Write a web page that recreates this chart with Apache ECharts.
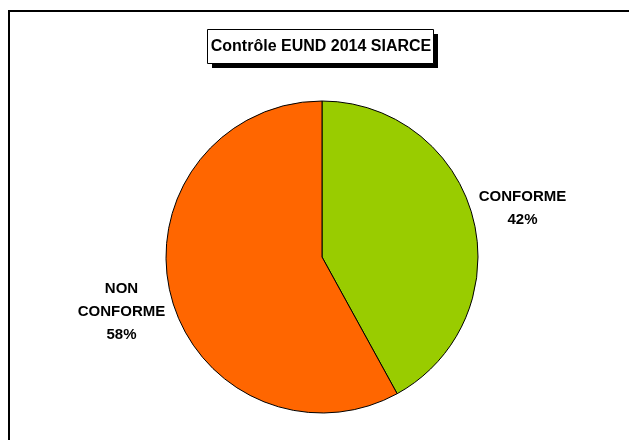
<!DOCTYPE html>
<html>
<head>
<meta charset="utf-8">
<script src="https://cdn.jsdelivr.net/npm/echarts@6/dist/echarts.min.js"></script>
<style>
html,body{margin:0;padding:0;background:#fff;}
#chart{width:629px;height:440px;}
</style>
</head>
<body>
<div id="chart"></div>
<script>
const titleText = 'Contrôle EUND 2014 SIARCE';
const categories = ['CONFORME', 'NON\nCONFORME'];
const values = [42, 58];
const colors = ['#99CC00', '#FF6600'];

const chart = echarts.init(document.getElementById('chart'), null, {renderer: 'canvas'});
const FONT = 'Arial, "Liberation Sans", sans-serif';

chart.setOption({
  backgroundColor: '#ffffff',
  animation: false,
  graphic: [{
    type: 'rect',
    shape: {x: 9, y: 11, width: 700, height: 500},
    style: {fill: 'none', stroke: '#000', lineWidth: 2},
    silent: true,
    z: 0
  }, {
    type: 'rect',
    shape: {x: 212, y: 34, width: 226, height: 34},
    style: {fill: '#000'},
    silent: true,
    z: 1
  }, {
    type: 'rect',
    shape: {x: 207.5, y: 29.5, width: 226, height: 34},
    style: {fill: '#fff', stroke: '#000', lineWidth: 1},
    silent: true,
    z: 2
  }],
  title: {
    text: titleText,
    left: 321,
    textAlign: 'center',
    top: 38,
    padding: 0,
    z: 10,
    textStyle: {fontFamily: FONT, fontSize: 16, fontWeight: 'bold', color: '#000', lineHeight: 17}
  },
  series: [{
    type: 'pie',
    center: [322, 257],
    radius: 156,
    startAngle: 90,
    clockwise: true,
    avoidLabelOverlap: false,
    data: categories.map((c, i) => ({name: c, value: values[i], itemStyle: {color: colors[i]}})),
    itemStyle: {borderColor: '#000', borderWidth: 1},
    label: {
      show: true,
      position: 'outside',
      formatter: '{b}\n{d}%',
      fontFamily: FONT,
      fontSize: 15,
      fontWeight: 'bold',
      color: '#000',
      lineHeight: 23,
      distanceToLabelLine: 0
    },
    labelLine: {show: false, length: 51, length2: 0},
    labelLayout: function () { return {align: 'center', dy: 3}; },
    emphasis: {disabled: true}
  }]
});
</script>
</body>
</html>
